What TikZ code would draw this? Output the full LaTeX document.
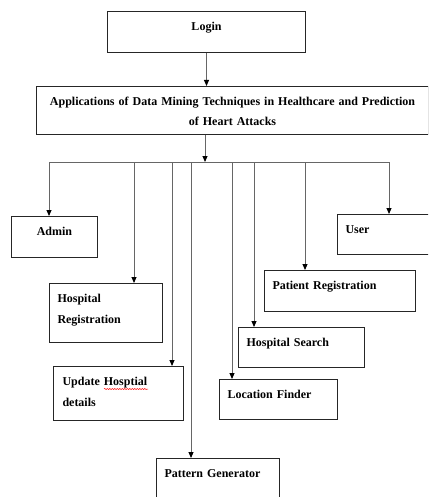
\documentclass[tikz,border=0pt]{standalone}
\usepackage{fontspec}
\setmainfont{Liberation Serif}
\usetikzlibrary{arrows.meta,positioning,decorations.pathmorphing}
\tikzset{every node/.style={align=center}}
\tikzset{
  blk/.style={rectangle,draw=black!85,line width=1pt,anchor=north west,inner xsep=8pt,inner ysep=0pt,
    text height=19pt,font=\fontsize{12}{20.5}\selectfont\bfseries},
  arr/.style={draw=black!60,line width=0.9pt,-{Triangle[length=6pt,width=5pt,color=black]}}
}

\begin{document}
\begin{tikzpicture}[x=1pt,y=-1pt]
\clip (0,0) rectangle (428,497);

\node[blk,text width=182pt,text depth=22pt] (login) at (107,11) {Login};
\node[blk,inner xsep=2pt,text width=388pt,text depth=29pt] (app) at (36,86)
  {Applications of Data Mining Techniques in Healthcare and Prediction\\ of Heart Attacks};

\node[blk,text width=70pt,text depth=22pt] (admin) at (11,216) {Admin};
\node[blk,align=left,text width=97pt,text depth=40pt] (hreg) at (49,283) {Hospital\\ Registration};
\node[blk,align=left,inner xsep=9pt,text width=112pt,text depth=35pt] (upd) at (53,366) {Update Hosptial\\ details};
\node[blk,align=left,text width=107pt,text depth=40pt] (pat) at (156,458) {Pattern Generator};
\node[blk,align=left,text width=102pt,text depth=21pt] (loc) at (219,379) {Location Finder};
\node[blk,align=left,text width=110pt,text depth=21pt] (hsearch) at (238,327) {Hospital Search};
\node[blk,align=left,text width=135pt,text depth=22pt] (preg) at (264,270) {Patient Registration};
\node[blk,align=left,text width=90pt,text depth=21pt] (user) at (337,214) {User};

% spell check mark
\draw[red,line width=0.5pt,decorate,decoration={snake,amplitude=0.6pt,segment length=2.5pt}] (104,389) -- (148,389);

\draw[arr] (login.south) -- (login.south |- app.north);

\coordinate (bus) at (205,162);
\coordinate (busl) at (49,162);
\coordinate (busr) at (389,162);
\draw[draw=black!60,line width=0.9pt] (busl) -- (busr);
\draw[arr] (bus |- app.south) -- (bus);

\foreach \x/\n in {49/admin,134/hreg,172/upd,191/pat,232/loc,254/hsearch,305/preg,389/user}{
  \coordinate (b\n) at (\x,162);
  \draw[arr] (b\n) -- (b\n |- \n.north);
}

\end{tikzpicture}
\end{document}
